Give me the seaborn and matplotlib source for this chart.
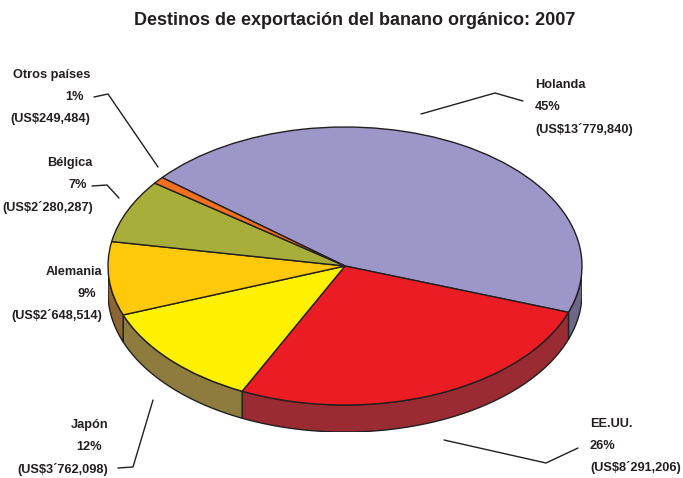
import numpy as np
import matplotlib
matplotlib.use("Agg")
import matplotlib.pyplot as plt
import seaborn as sns

# data
paises = ["Holanda", "EE.UU.", "Japón", "Alemania", "Bélgica", "Otros países"]
porcentajes = ["45%", "26%", "12%", "9%", "7%", "1%"]
montos = ["(US$13´779,840)", "(US$8´291,206)", "(US$3´762,098)",
          "(US$2´648,514)", "(US$2´280,287)", "(US$249,484)"]
valores = [13779840, 8291206, 3762098, 2648514, 2280287, 249484]

colores_top = ["#9C97C8", "#EC1C24", "#FFF100", "#FFC90A", "#A8AE3A", "#F37021"]
colores_lado = ["#6C6889", "#9A2B33", "#8E7C3E", "#8C6635", "#737A2A", "#A84E18"]

sns.set_style("white")
plt.rcParams["font.family"] = ["Liberation Sans", "DejaVu Sans"]
txt_color = "#231F20"

W, H = 683, 478
fig = plt.figure(figsize=(W / 100, H / 100), dpi=100)

# pie geometry in pixels
cx, cy, rx, ry, depth = 345, 266, 237, 139, 27
d = depth / ry
ax = fig.add_axes([(cx - rx) / W, 1 - (cy + ry + depth) / H, 2 * rx / W, (2 * ry + depth) / H])

wedges, _ = ax.pie(valores, colors=colores_top, startangle=140.5, counterclock=False,
                   wedgeprops=dict(edgecolor=txt_color, linewidth=1.0, zorder=3))

# side walls of the 3d pie (front half only)
for w, c in zip(wedges, colores_lado):
    for k in (-360, 0, 360):
        lo = max(w.theta1, 180 + k)
        hi = min(w.theta2, 360 + k)
        if hi <= lo:
            continue
        t = np.radians(np.linspace(lo, hi, 100))
        xs = np.concatenate([np.cos(t), np.cos(t[::-1])])
        ys = np.concatenate([np.sin(t), np.sin(t[::-1]) - d])
        ax.fill(xs, ys, facecolor=c, edgecolor=txt_color, linewidth=1.0, zorder=1)

ax.set_xlim(-1, 1)
ax.set_ylim(-1 - d, 1)
ax.set_aspect("auto")
ax.axis("off")

# overlay for labels in pixel coordinates
ov = fig.add_axes([0, 0, 1, 1])
ov.set_xlim(0, W)
ov.set_ylim(H, 0)
ov.axis("off")
ov.patch.set_alpha(0)

ov.text(355, 20, "Destinos de exportación del banano orgánico: 2007", ha="center", va="center",
        fontsize=13, fontweight="bold", color=txt_color)

# label anchors (x, y of first line, alignment)
label_pos = [(535, 85, "left"), (590, 424, "left"), (108, 425, "right"),
             (102, 272, "right"), (93, 163, "right"), (90, 75, "right")]
for i, (x, y, ha) in enumerate(label_pos):
    for j, s in enumerate([paises[i], porcentajes[i], montos[i]]):
        dx = -6 if (ha == "right" and j == 1) else 0
        ov.text(x + dx, y + j * 22, s, ha=ha, va="center", fontsize=9.2, fontweight="bold", color=txt_color)

leaders = [
    ([523, 495, 421], [101, 93, 114]),
    ([578, 546, 444], [448, 463, 440]),
    ([118, 133, 153], [468, 467, 400]),
    ([92, 107, 119], [186, 185, 198]),
    ([94, 108, 158], [97, 94, 167]),
]
for xs, ys in leaders:
    ov.plot(xs, ys, color=txt_color, linewidth=1.0)

fig.savefig("out.png", dpi=100)
